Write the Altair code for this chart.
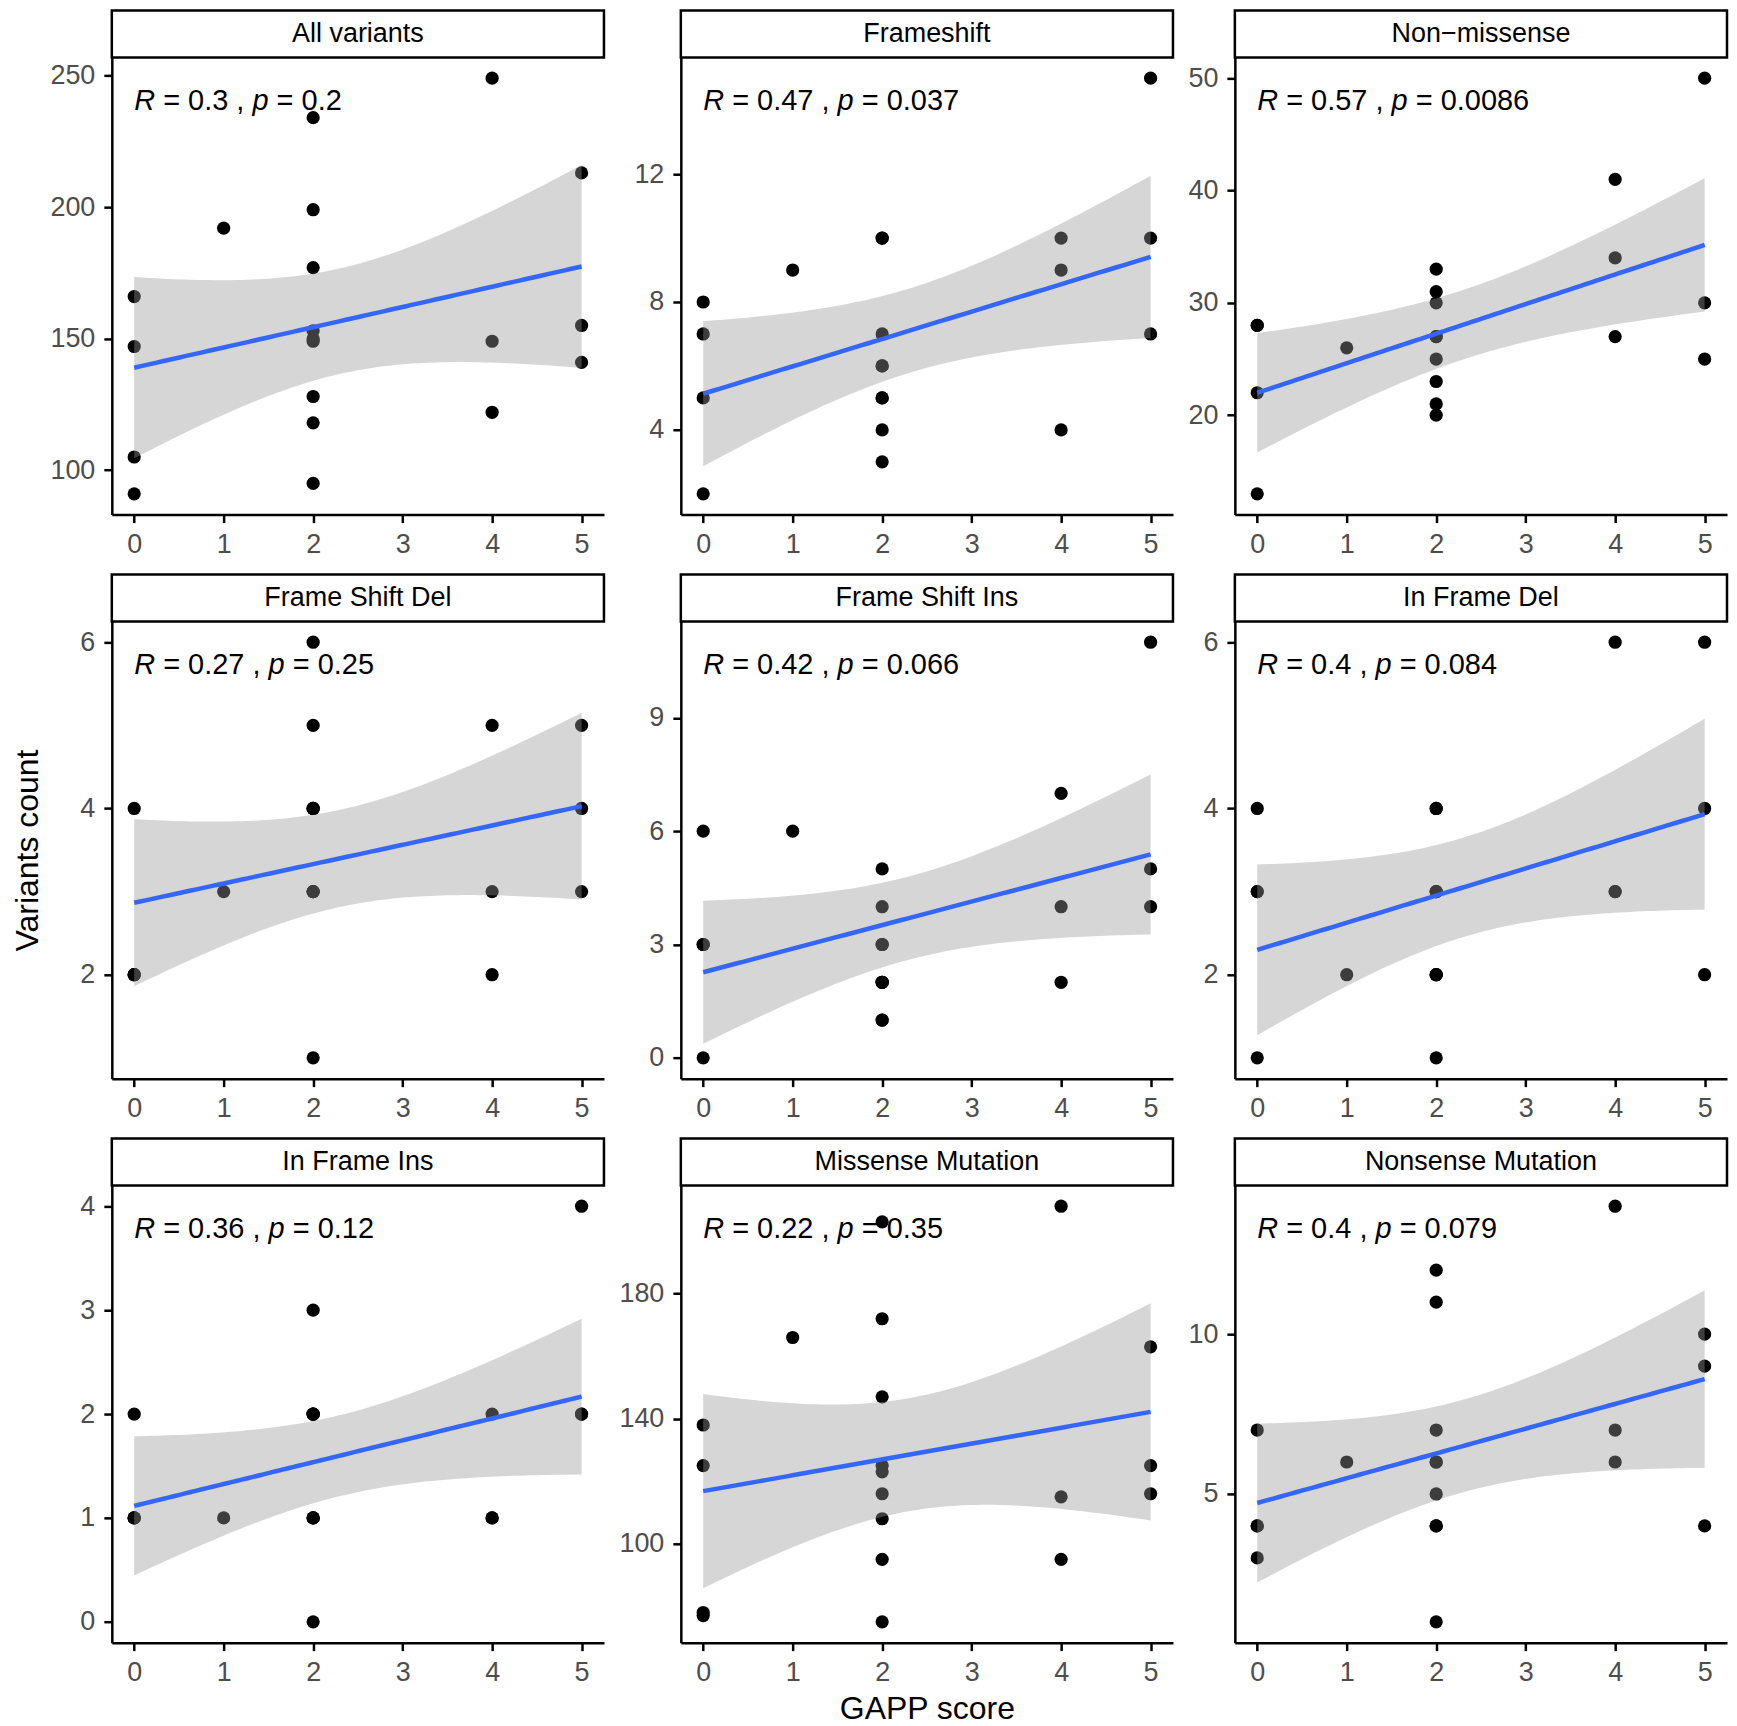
import math
import numpy as np
import pandas as pd
import altair as alt

# ---------------- data ----------------
PANEL_NAMES = ["All variants", "Frameshift", "Non\u2212missense",
               "Frame Shift Del", "Frame Shift Ins", "In Frame Del",
               "In Frame Ins", "Missense Mutation", "Nonsense Mutation"]

# GAPP score of the 20 subjects (same order in every panel)
GAPP = [0, 0, 0, 0, 1, 2, 2, 2, 2, 2, 2, 2, 2, 2, 4, 4, 4, 5, 5, 5]

all_variants    = [166, 147, 105, 91, 192, 234, 199, 177, 153, 150, 149, 128, 118, 95, 249, 149, 122, 213, 155, 141]
frameshift      = [8, 7, 5, 2, 9, 10, 10, 7, 6, 6, 5, 5, 4, 3, 10, 9, 4, 15, 10, 7]
non_missense    = [28, 28, 22, 13, 26, 33, 31, 30, 27, 27, 25, 23, 21, 20, 41, 34, 27, 50, 30, 25]
frame_shift_del = [4, 2, 2, 2, 3, 6, 5, 4, 4, 4, 3, 3, 3, 1, 5, 3, 2, 5, 4, 3]
frame_shift_ins = [6, 3, 3, 0, 6, 5, 4, 3, 3, 2, 2, 2, 1, 1, 7, 4, 2, 11, 5, 4]
in_frame_del    = [4, 3, 3, 1, 2, 4, 4, 3, 3, 3, 2, 2, 2, 1, 6, 3, 3, 6, 4, 2]
in_frame_ins    = [2, 1, 1, 1, 1, 3, 2, 2, 2, 2, 1, 1, 1, 0, 2, 1, 1, 4, 2, 2]
missense        = [138, 125, 78, 77, 166, 203, 172, 147, 125, 123, 116, 108, 95, 75, 208, 115, 95, 163, 125, 116]
nonsense        = [7, 4, 4, 3, 6, 12, 11, 7, 6, 6, 5, 4, 4, 1, 14, 7, 6, 10, 9, 4]

PANEL_VALUES = [all_variants, frameshift, non_missense, frame_shift_del, frame_shift_ins,
                in_frame_del, in_frame_ins, missense, nonsense]

R_VALUES = ["0.3", "0.47", "0.57", "0.27", "0.42", "0.4", "0.36", "0.22", "0.4"]
P_VALUES = ["0.2", "0.037", "0.0086", "0.25", "0.066", "0.084", "0.12", "0.35", "0.079"]

Y_TICKS = [[100, 150, 200, 250], [4, 8, 12], [20, 30, 40, 50],
           [2, 4, 6], [0, 3, 6, 9], [2, 4, 6],
           [0, 1, 2, 3, 4], [100, 140, 180], [5, 10]]
X_TICKS = [0, 1, 2, 3, 4, 5]

# ---------------- helpers ----------------
FONT = "Liberation Sans"
W, H = 493, 458
STRIP_H = 47
ANN_SIZE = 29


def t_ppf(q, nu):
    c = math.exp(math.lgamma((nu + 1) / 2) - math.lgamma(nu / 2)) / math.sqrt(nu * math.pi)

    def cdf(t):
        n = 2000
        h = t / n
        s = 0.0
        for k in range(n + 1):
            x = k * h
            f = c * (1 + x * x / nu) ** (-(nu + 1) / 2)
            w = 1 if k in (0, n) else (4 if k % 2 else 2)
            s += w * f
        return 0.5 + s * h / 3

    lo, hi = 0.0, 20.0
    for _ in range(60):
        mid = (lo + hi) / 2
        if cdf(mid) < q:
            lo = mid
        else:
            hi = mid
    return (lo + hi) / 2


def lm_fit(xs, ys):
    x = np.asarray(xs, float)
    y = np.asarray(ys, float)
    n = len(x)
    mx, my = x.mean(), y.mean()
    sxx = ((x - mx) ** 2).sum()
    b = ((x - mx) * (y - my)).sum() / sxx
    a = my - b * mx
    s = math.sqrt(((y - a - b * x) ** 2).sum() / (n - 2))
    t = t_ppf(0.975, n - 2)
    g = np.linspace(x.min(), x.max(), 80)
    f = a + b * g
    se = s * np.sqrt(1 / n + (g - mx) ** 2 / sxx)
    return pd.DataFrame({"gapp": g, "count": f, "lo": f - t * se, "hi": f + t * se})


ARIAL_W = {"R": 0.722, "p": 0.556, " ": 0.278, "=": 0.584, ".": 0.278, ",": 0.278}


def text_w(s):
    return sum(ARIAL_W.get(ch, 0.556) for ch in s) * ANN_SIZE


def panel(i):
    ys = PANEL_VALUES[i]
    pts_df = pd.DataFrame({"gapp": GAPP, "count": ys})
    fit_df = lm_fit(GAPP, ys)
    lo = min(min(ys), fit_df["lo"].min())
    hi = max(max(ys), fit_df["hi"].max())
    pad = 0.05 * (hi - lo)

    xscale = alt.Scale(domain=[-0.25, 5.25], nice=False, zero=False)
    yscale = alt.Scale(domain=[lo - pad, hi + pad], nice=False, zero=False)
    xaxis = alt.Axis(values=X_TICKS, format="d", title="GAPP score" if i == 7 else None,
                     titlePadding=8)
    yaxis = alt.Axis(values=Y_TICKS[i], format="d", title="Variants count" if i == 3 else None,
                     titlePadding=35)
    X = alt.X("gapp:Q", scale=xscale, axis=xaxis)
    Y = alt.Y("count:Q", scale=yscale, axis=yaxis)

    pts = alt.Chart(pts_df).mark_circle(size=175, color="black", opacity=1).encode(x=X, y=Y)
    band = alt.Chart(fit_df).mark_area(color="#999999", opacity=0.4).encode(
        x=X, y=alt.Y("lo:Q", scale=yscale, axis=yaxis), y2="hi:Q")
    line = alt.Chart(fit_df).mark_line(color="#3366FF", strokeWidth=4.5).encode(x=X, y=Y)

    r, p = R_VALUES[i], P_VALUES[i]
    segs = [("R", "italic", 0.0),
            (f"= {r} ,", "normal", text_w("R ")),
            ("p", "italic", text_w(f"R = {r} , ")),
            (f"= {p}", "normal", text_w(f"R = {r} , p "))]
    ann_layers = []
    for txt, style, dx in segs:
        adf = pd.DataFrame({"gapp": [0], "count": [max(ys)], "t": [txt]})
        ann_layers.append(
            alt.Chart(adf).mark_text(align="left", baseline="alphabetic", dx=dx, dy=32,
                                     fontSize=ANN_SIZE, fontStyle=style, font=FONT,
                                     color="black").encode(x=X, y=Y, text="t:N"))

    sdf = pd.DataFrame({"label": [PANEL_NAMES[i]]})
    strip = alt.Chart(sdf).mark_rect(fill="white", stroke="black", strokeWidth=2.5).encode(
        x=alt.value(0), x2=alt.value(W), y=alt.value(-STRIP_H), y2=alt.value(0))
    strip_text = alt.Chart(sdf).mark_text(fontSize=27, font=FONT, color="black",
                                          baseline="middle", align="center").encode(
        x=alt.value(W / 2), y=alt.value(-STRIP_H / 2), text="label:N")

    return alt.layer(pts, band, line, *ann_layers, strip, strip_text).properties(width=W, height=H)


chart = alt.concat(*[panel(i) for i in range(9)], columns=3).properties(
    spacing={"row": 15, "column": 12},
    align="each",
    padding={"left": 3, "top": -1, "right": 0, "bottom": 0},
).configure(font=FONT).configure_view(strokeWidth=0).configure_axis(
    grid=False, domainColor="black", domainWidth=2.5, tickColor="black", tickWidth=2.5,
    tickSize=8, labelFontSize=27, labelColor="#4D4D4D", labelFont=FONT, labelPadding=9,
    titleFontSize=32, titleFontWeight="normal", titleColor="black", titleFont=FONT,
)

chart.save("out.html", embed_options={"renderer": "svg", "actions": False})
